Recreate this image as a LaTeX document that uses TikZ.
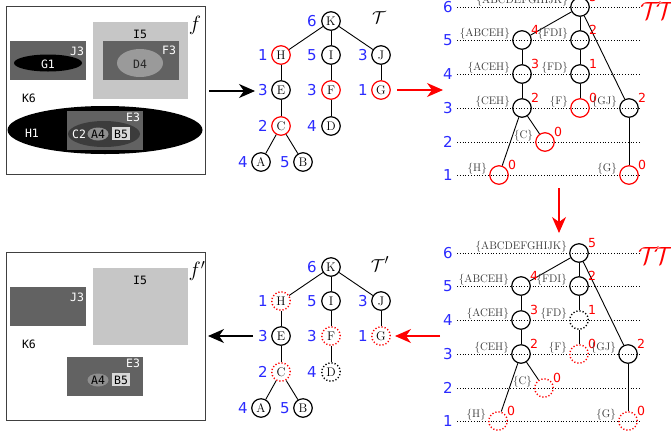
\documentclass[tikz,border=0pt]{standalone}
\usepackage{fontspec}
\usetikzlibrary{arrows.meta}
\newfontfamily\djs{DejaVu Sans}
\newfontfamily\djm{DejaVu Sans Mono}
\definecolor{dg}{HTML}{626262}
\definecolor{lg}{HTML}{C6C6C6}
\definecolor{mg}{HTML}{9A9A9A}
\definecolor{cg}{HTML}{3C3C3C}
\definecolor{ag}{HTML}{8E8E8E}
\definecolor{bg}{HTML}{D8D8D8}
\definecolor{bl}{HTML}{2A2AFF}
\definecolor{st}{HTML}{333333}
\tikzset{
  tn/.style={circle, draw, line width=1.2pt, minimum size=18.5pt, inner sep=0pt, font=\fontsize{12.5}{12.5}\selectfont},
  rn/.style={tn, draw=red},
  rdn/.style={tn, draw=red, dotted, line width=1.4pt},
  kdn/.style={tn, dotted, line width=1.4pt},
  bnum/.style={text=bl, font=\djs\fontsize{15}{15}\selectfont, inner sep=0pt},
  rnum/.style={text=red, font=\djs\fontsize{12.5}{12.5}\selectfont, inner sep=0pt},
  setl/.style={text=st, font=\fontsize{11}{11}\selectfont, inner sep=0pt, anchor=east},
  plab/.style={font=\djm\fontsize{11.5}{11.5}\selectfont, inner sep=0pt},
  edge/.style={line width=0.9pt},
  lvl/.style={dotted, line width=0.8pt},
  bigarrow/.style={line width=1.1pt, -{Stealth[length=16pt, width=14pt, inset=5pt]}},
  frame/.style={draw=black!75, line width=1pt},
}
\begin{document}
\begin{tikzpicture}[x=1pt,y=-1pt]
\useasboundingbox (0,0) rectangle (671,432);

% ---------- top-left image panel ----------
\draw[frame] (6,6) rectangle (205,174);
\fill[dg] (10,41) rectangle (86,80);
\fill[black] (48,63) ellipse [x radius=34, y radius=8.5];
\node[plab, text=white] (g1) at (48,64) {G1};
\node[plab, text=white] (j3) at (77,51) {J3};
\fill[lg] (93,22) rectangle (188,99);
\node[plab] (i5) at (140,34) {I5};
\fill[dg] (103,41) rectangle (179,80);
\node[plab, text=white] (f3) at (169,50) {F3};
\fill[mg] (140,63) ellipse [x radius=23, y radius=14];
\node[plab, text=black!85] (d4) at (140,64) {D4};
\node[plab] (k6) at (29,98) {K6};
\fill[black] (105,130) ellipse [x radius=97.5, y radius=24];
\node[plab, text=white] (h1) at (32,133) {H1};
\fill[dg] (67,111) rectangle (143,150);
\node[plab, text=white] (e3) at (133,117) {E3};
\fill[cg] (104,134) ellipse [x radius=36, y radius=13];
\node[plab, text=white] (c2) at (79,134) {C2};
\fill[ag] (98,134) ellipse [x radius=10.5, y radius=6.5];
\node[plab] (a4) at (98,134) {A4};
\fill[bg] (112,127) rectangle (130,140);
\node[plab] (b5) at (121,134) {B5};
\node[font=\fontsize{21}{21}\selectfont] (flab) at (195,25) {$f$};

% ---------- bottom-left image panel ----------
\draw[frame] (6,252) rectangle (205,420);
\fill[dg] (10,287) rectangle (86,326);
\node[plab, text=white] (j3b) at (77,297) {J3};
\fill[lg] (93,268) rectangle (188,345);
\node[plab] (i5b) at (140,280) {I5};
\node[plab] (k6b) at (29,344) {K6};
\fill[dg] (67,357) rectangle (143,396);
\node[plab, text=white] (e3b) at (133,363) {E3};
\fill[ag] (98,380) ellipse [x radius=10.5, y radius=6.5];
\node[plab] (a4b) at (98,380) {A4};
\fill[bg] (112,373) rectangle (130,386);
\node[plab] (b5b) at (121,380) {B5};
\node[font=\fontsize{21}{21}\selectfont] (flabb) at (197,271) {$f'$};

% ---------- top middle tree ----------
\node[tn] (K) at (331,21) {K};
\node[rn] (H) at (281,55) {H};
\node[tn] (I) at (331,55) {I};
\node[tn] (J) at (381,55) {J};
\node[tn] (E) at (281,90) {E};
\node[rn] (F) at (331,90) {F};
\node[rn] (G) at (381,90) {G};
\node[rn] (C) at (281,126) {C};
\node[tn] (D) at (331,126) {D};
\node[tn] (A) at (261,162) {A};
\node[tn] (B) at (303,162) {B};
\draw[edge] (K) -- (H); \draw[edge] (K) -- (I); \draw[edge] (K) -- (J);
\draw[edge] (H) -- (E); \draw[edge] (E) -- (C); \draw[edge] (C) -- (A); \draw[edge] (C) -- (B);
\draw[edge] (I) -- (F); \draw[edge] (F) -- (D); \draw[edge] (J) -- (G);
\node[bnum] (nK) at (312,21) {6};
\node[bnum] (nH) at (263,55) {1};
\node[bnum] (nI) at (312,55) {5};
\node[bnum] (nJ) at (363,55) {3};
\node[bnum] (nE) at (263,90) {3};
\node[bnum] (nF) at (312,90) {3};
\node[bnum] (nG) at (363,90) {1};
\node[bnum] (nC) at (263,126) {2};
\node[bnum] (nD) at (312,126) {4};
\node[bnum] (nA) at (243,162) {4};
\node[bnum] (nB) at (285,162) {5};
\node[font=\fontsize{19}{19}\selectfont] (Tlab) at (379,18) {$\mathcal{T}$};

% ---------- bottom middle tree ----------
\node[tn] (Kb) at (331,267) {K};
\node[rdn] (Hb) at (281,301) {H};
\node[tn] (Ib) at (331,301) {I};
\node[tn] (Jb) at (381,301) {J};
\node[tn] (Eb) at (281,336) {E};
\node[rdn] (Fb) at (331,336) {F};
\node[rdn] (Gb) at (381,336) {G};
\node[rdn] (Cb) at (281,372) {C};
\node[kdn] (Db) at (331,372) {D};
\node[tn] (Ab) at (261,408) {A};
\node[tn] (Bb) at (303,408) {B};
\draw[edge] (Kb) -- (Hb); \draw[edge] (Kb) -- (Ib); \draw[edge] (Kb) -- (Jb);
\draw[edge] (Hb) -- (Eb); \draw[edge] (Eb) -- (Cb); \draw[edge] (Cb) -- (Ab); \draw[edge] (Cb) -- (Bb);
\draw[edge] (Ib) -- (Fb); \draw[edge] (Fb) -- (Db); \draw[edge] (Jb) -- (Gb);
\node[bnum] (nKb) at (312,267) {6};
\node[bnum] (nHb) at (263,301) {1};
\node[bnum] (nIb) at (312,301) {5};
\node[bnum] (nJb) at (363,301) {3};
\node[bnum] (nEb) at (263,336) {3};
\node[bnum] (nFb) at (312,336) {3};
\node[bnum] (nGb) at (363,336) {1};
\node[bnum] (nCb) at (263,372) {2};
\node[bnum] (nDb) at (312,372) {4};
\node[bnum] (nAb) at (243,408) {4};
\node[bnum] (nBb) at (285,408) {5};
\node[font=\fontsize{19}{19}\selectfont] (Tlabb) at (380,264) {$\mathcal{T}'$};

% ---------- top right tree ----------
\foreach \lv/\yy in {6/7,5/40,4/74,3/108,2/142,1/175}{
  \node[bnum] (lt\lv) at (448,\yy) {\lv};
  \coordinate (lta\lv) at (457,\yy);
  \coordinate (ltb\lv) at (640,\yy);
  \draw[lvl] (lta\lv) -- (ltb\lv);
}
\node[tn] (R) at (580,7) {};
\node[tn] (P1) at (522,40) {};
\node[tn] (Q1) at (580,40) {};
\node[tn] (P2) at (522,74) {};
\node[tn] (Q2) at (580,74) {};
\node[tn] (P3) at (522,108) {};
\node[rn] (Q3) at (580,108) {};
\node[tn] (S3) at (629,108) {};
\node[rn] (P4) at (545,142) {};
\node[rn] (P5) at (499,175) {};
\node[rn] (S5) at (629,175) {};
\draw[edge] (R) -- (P1); \draw[edge] (R) -- (Q1); \draw[edge] (R) -- (S3);
\draw[edge] (P1) -- (P2); \draw[edge] (P2) -- (P3); \draw[edge] (P3) -- (P4); \draw[edge] (P3) -- (P5);
\draw[edge] (Q1) -- (Q2); \draw[edge] (Q2) -- (Q3); \draw[edge] (S3) -- (S5);
\foreach \n/\s/\v in {R/{ABCDEFGHIJK}/5, P1/{ABCEH}/4, Q1/{FDI}/2, P2/{ACEH}/3, Q2/{FD}/1, P3/{CEH}/2, Q3/{F}/0, S3/{GJ}/2, P4/{C}/0, P5/{H}/0, S5/{G}/0}{
  \node[setl] (s\n) at ([xshift=-12pt,yshift=6.5pt]\n.center) {\{\s\}};
  \node[rnum] (v\n) at ([xshift=13pt,yshift=10pt]\n.center) {\v};
}
\node[text=red, font=\fontsize{23}{23}\selectfont, anchor=west, inner sep=0pt] (TTa) at (640,11) {$\mathcal{T}\mkern-3mu\mathcal{T}$};

% ---------- bottom right tree ----------
\foreach \lv/\yy in {6/253,5/286,4/320,3/354,2/388,1/421}{
  \node[bnum] (lb\lv) at (448,\yy) {\lv};
  \coordinate (lba\lv) at (457,\yy);
  \coordinate (lbb\lv) at (640,\yy);
  \draw[lvl] (lba\lv) -- (lbb\lv);
}
\node[tn] (Rb) at (579,253) {};
\node[tn] (P1b) at (521,286) {};
\node[tn] (Q1b) at (579,286) {};
\node[tn] (P2b) at (521,320) {};
\node[kdn] (Q2b) at (579,320) {};
\node[tn] (P3b) at (521,354) {};
\node[rdn] (Q3b) at (579,354) {};
\node[tn] (S3b) at (628,354) {};
\node[rdn] (P4b) at (544,388) {};
\node[rdn] (P5b) at (498,421) {};
\node[rdn] (S5b) at (628,421) {};
\draw[edge] (Rb) -- (P1b); \draw[edge] (Rb) -- (Q1b); \draw[edge] (Rb) -- (S3b);
\draw[edge] (P1b) -- (P2b); \draw[edge] (P2b) -- (P3b); \draw[edge] (P3b) -- (P4b); \draw[edge] (P3b) -- (P5b);
\draw[edge] (Q1b) -- (Q2b); \draw[edge] (Q2b) -- (Q3b); \draw[edge] (S3b) -- (S5b);
\foreach \n/\s/\v in {Rb/{ABCDEFGHIJK}/5, P1b/{ABCEH}/4, Q1b/{FDI}/2, P2b/{ACEH}/3, Q2b/{FD}/1, P3b/{CEH}/2, Q3b/{F}/0, S3b/{GJ}/2, P4b/{C}/0, P5b/{H}/0, S5b/{G}/0}{
  \node[setl] (s\n) at ([xshift=-12pt,yshift=6.5pt]\n.center) {\{\s\}};
  \node[rnum] (v\n) at ([xshift=13pt,yshift=10pt]\n.center) {\v};
}
\node[text=red, font=\fontsize{23}{23}\selectfont, anchor=west, inner sep=0pt] (TTb) at (638,256) {$\mathcal{T}\mkern-3mu\mathcal{T}$};

% ---------- arrows ----------
\coordinate (a1s) at (209,91);  \coordinate (a1e) at (255,91);
\draw[bigarrow] (a1s) -- (a1e);
\coordinate (a2s) at (397,90);  \coordinate (a2e) at (443,90);
\draw[bigarrow, red] (a2s) -- (a2e);
\coordinate (a3s) at (559,188); \coordinate (a3e) at (559,233);
\draw[bigarrow, red] (a3s) -- (a3e);
\coordinate (a4s) at (440,336); \coordinate (a4e) at (395,336);
\draw[bigarrow, red] (a4s) -- (a4e);
\coordinate (a5s) at (253,336); \coordinate (a5e) at (208,336);
\draw[bigarrow] (a5s) -- (a5e);
\end{tikzpicture}
\end{document}
